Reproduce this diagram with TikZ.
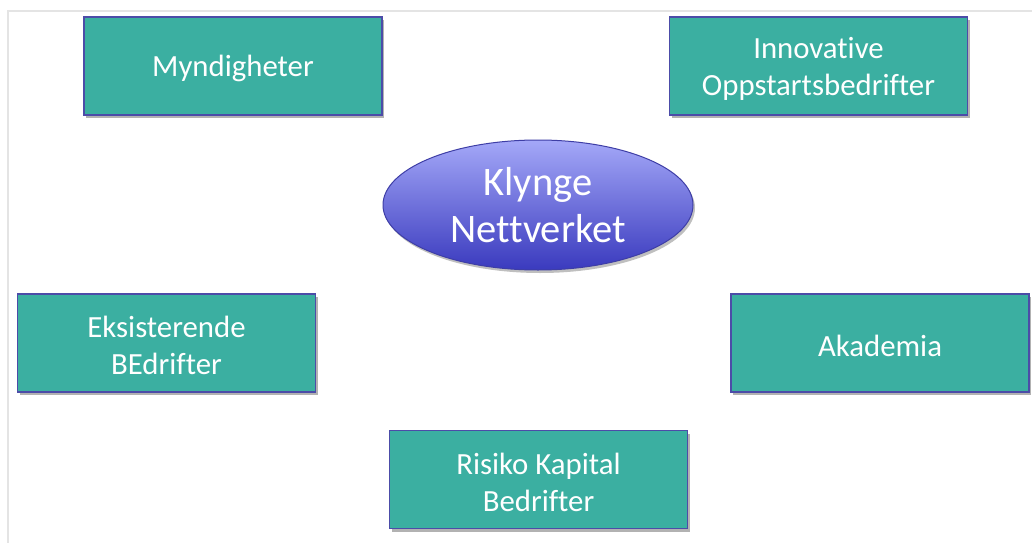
\documentclass[tikz,border=0pt]{standalone}
\usepackage{fontspec}
\setmainfont[Ligatures=NoCommon]{Carlito}
\usetikzlibrary{shapes.geometric,shadows}
\definecolor{teal1}{HTML}{3BAFA1}
\definecolor{edge1}{HTML}{4C4CA8}
\definecolor{elltop}{HTML}{A4A8F8}
\definecolor{ellbot}{HTML}{3A3ABE}
\definecolor{elledge}{HTML}{3E3EA6}
\definecolor{framegray}{HTML}{E4E4E4}
\newcommand{\firstlinestrut}{\rule{0pt}{27pt}}
\tikzset{
  actorbox/.style={rectangle, draw=edge1, line width=1.8pt, fill=teal1,
    minimum width=298pt, minimum height=98pt, inner sep=0pt,
    text=white, align=center, font=\fontsize{30.8}{37}\selectfont,
    drop shadow={shadow xshift=2pt, shadow yshift=-3pt, opacity=0.3, fill=black}},
  hubnode/.style={ellipse, draw=elledge, line width=1pt,
    top color=elltop, bottom color=ellbot,
    minimum width=310pt, minimum height=130pt, inner sep=0pt,
    text=white, align=center, font=\fontsize{40.5}{47}\selectfont,
    drop shadow={shadow xshift=2pt, shadow yshift=-3pt, opacity=0.25, fill=black}}
}
\begin{document}
\begin{tikzpicture}[x=1pt,y=-1pt]
\useasboundingbox (0,0) rectangle (1032,543);
\fill[white] (0,0) rectangle (1032,543);
\draw[framegray, line width=1.5pt] (8,543) -- (8,11) -- (1032,11);
\node[actorbox] (mynd) at (233,66) {\firstlinestrut Myndigheter};
\node[actorbox] (innov) at (818.5,66) {\firstlinestrut Innovative\\Oppstartsbedrifter};
\node[hubnode] (hub) at (538,205) {Klynge\\Nettverket};
\node[actorbox] (eksist) at (166.5,343) {\firstlinestrut Eksisterende\\BEdrifter};
\node[actorbox] (akad) at (880,343) {\firstlinestrut Akademia};
\node[actorbox] (risiko) at (538.5,479.5) {\firstlinestrut Risiko Kapital\\Bedrifter};
\end{tikzpicture}
\end{document}
